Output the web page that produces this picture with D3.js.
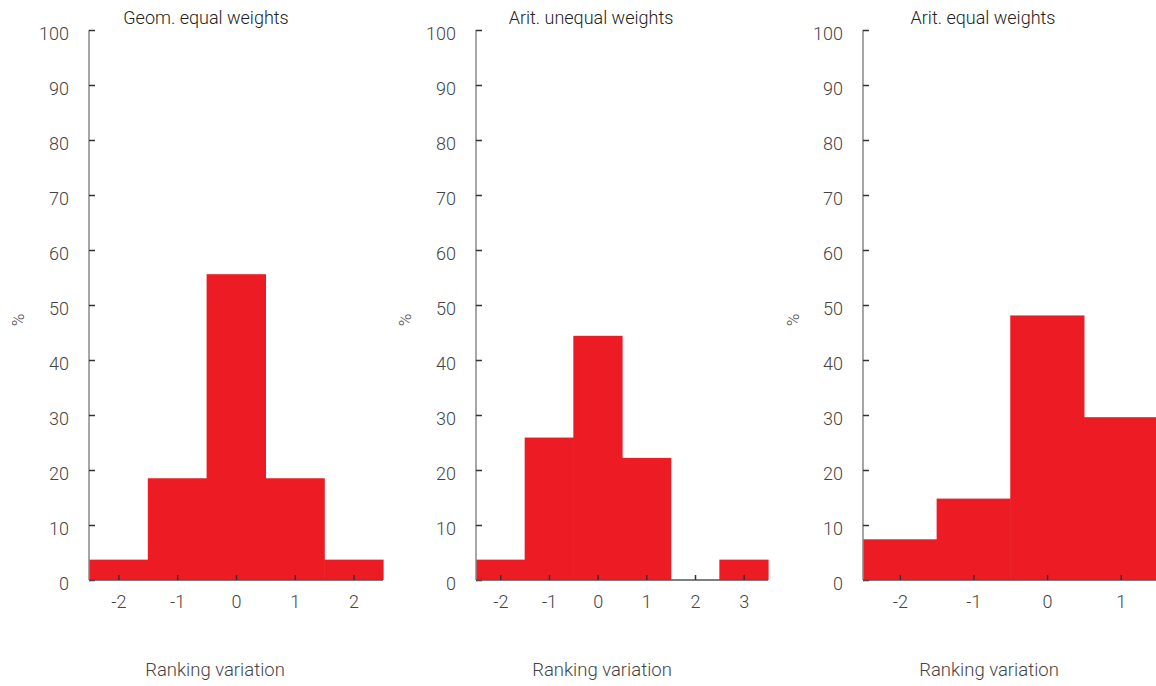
<!DOCTYPE html>
<html>
<head>
<meta charset="utf-8">
<script src="https://cdn.jsdelivr.net/npm/d3@7"></script>
<style>
  body { margin: 0; background: #fff; }
  svg { display: block; }
  svg text { font-family: Roboto, "DejaVu Sans", sans-serif; font-weight: 300; }
</style>
</head>
<body>
<svg id="chart" width="1156" height="686"></svg>
<script>
// Distribution of ranking variation (%), by aggregation method
const titles = ["Geom. equal weights", "Arit. unequal weights", "Arit. equal weights"];
const geomEqualBins = [-2, -1, 0, 1, 2];
const geomEqualPct = [3.7, 18.5, 55.6, 18.5, 3.7];
const aritUnequalBins = [-2, -1, 0, 1, 2, 3];
const aritUnequalPct = [3.7, 25.9, 44.4, 22.2, 0, 3.7];
const aritEqualBins = [-2, -1, 0, 1];
const aritEqualPct = [7.4, 14.8, 48.1, 29.6];
const yTicks = [0, 10, 20, 30, 40, 50, 60, 70, 80, 90, 100];
const xLabel = "Ranking variation";
const yLabel = "%";

const panels = [
  { title: titles[0], bins: geomEqualBins, pct: geomEqualPct, left: 89, right: 383, titleX: 206, xLabelX: 215, yLabelX: 18 },
  { title: titles[1], bins: aritUnequalBins, pct: aritUnequalPct, left: 476, right: 768, titleX: 591, xLabelX: 602, yLabelX: 405 },
  { title: titles[2], bins: aritEqualBins, pct: aritEqualPct, left: 863, right: 1157.5, titleX: 983, xLabelX: 989, yLabelX: 793 }
];

const svg = d3.select("#chart");
const plotTop = 30, plotBottom = 580;
const barColor = "#ed1c24";
const textColor = "#444";

const y = d3.scaleLinear().domain([0, 100]).range([plotBottom, plotTop]);

panels.forEach(p => {
  const x = d3.scaleLinear()
    .domain([d3.min(p.bins) - 0.5, d3.max(p.bins) + 0.5])
    .range([p.left, p.right]);
  const g = svg.append("g");

  // histogram bars, one per unit bin
  g.selectAll("rect.bar")
    .data(p.bins.map((b, i) => ({ b, v: p.pct[i] })))
    .join("rect")
    .attr("class", "bar")
    .attr("x", d => x(d.b - 0.5))
    .attr("width", d => x(d.b + 0.5) - x(d.b - 0.5) + 0.6)
    .attr("y", d => y(d.v))
    .attr("height", d => y(0) - y(d.v))
    .attr("fill", barColor);

  // y axis, ticks pointing inward
  const yAxis = g.append("g")
    .attr("transform", `translate(${p.left},0)`)
    .call(d3.axisRight(y).tickValues(yTicks).tickSize(6).tickFormat(d3.format("d")))
    .attr("font-family", null).attr("font-size", null);
  yAxis.select(".domain").attr("stroke", "#888").attr("stroke-width", 1.5).attr("d", `M0,${plotTop}V${plotBottom}`);
  yAxis.selectAll(".tick line").attr("stroke", "#333").attr("stroke-width", 1.5);
  yAxis.selectAll(".tick text")
    .attr("x", -20).attr("text-anchor", "end").attr("dy", "0.55em")
    .attr("fill", textColor).style("font-size", "18px");

  // x axis, ticks pointing upward
  const xAxis = g.append("g")
    .attr("transform", `translate(0,${plotBottom})`)
    .call(d3.axisTop(x).tickValues(p.bins).tickSize(5).tickFormat(d3.format("d")))
    .attr("font-family", null).attr("font-size", null);
  xAxis.select(".domain").attr("stroke", "#555").attr("stroke-width", 1.5)
    .attr("d", `M${p.left},0H${p.right}`);
  xAxis.selectAll(".tick line").attr("stroke", "#333").attr("stroke-width", 1.5);
  xAxis.selectAll(".tick text")
    .attr("y", 21).attr("dy", "0.4em").attr("text-anchor", "middle")
    .attr("fill", textColor).style("font-size", "18px")
    .text(d => d < 0 ? "-" + Math.abs(d) : d);

  // labels
  g.append("text")
    .attr("x", p.titleX).attr("y", 24)
    .attr("text-anchor", "middle").attr("fill", "#222")
    .style("font-size", "18px").text(p.title);
  g.append("text")
    .attr("x", p.xLabelX).attr("y", 676)
    .attr("text-anchor", "middle").attr("fill", textColor)
    .style("font-size", "18.5px").text(xLabel);
  g.append("text")
    .attr("transform", `translate(${p.yLabelX + 6},320) rotate(-90)`)
    .attr("text-anchor", "middle").attr("fill", textColor)
    .style("font-size", "17px").text(yLabel);
});
</script>
</body>
</html>
